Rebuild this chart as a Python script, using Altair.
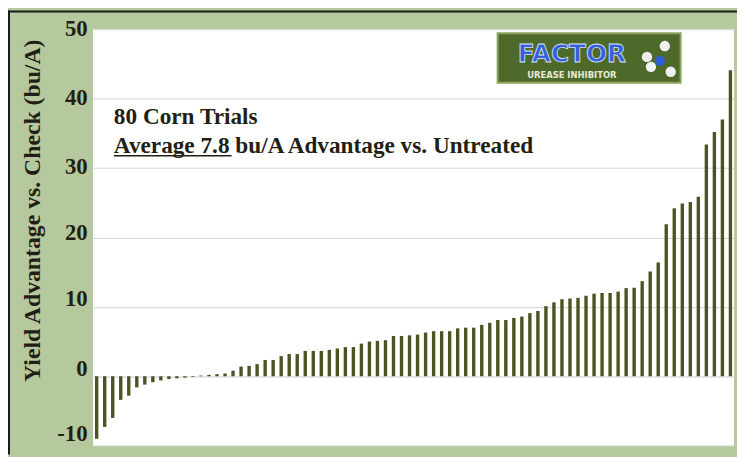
import altair as alt
import pandas as pd

# ---- data ----
trials = list(range(1, 81))
advantage = [
    -9.0, -7.3, -6.0, -3.4, -2.8, -1.6, -1.2, -0.85, -0.6, -0.4,
    -0.3, -0.2, -0.1, 0.1, 0.2, 0.3, 0.4, 0.8, 1.4, 1.5,
    1.75, 2.35, 2.35, 2.9, 3.2, 3.2, 3.65, 3.65, 3.65, 3.8,
    4.0, 4.2, 4.2, 4.7, 5.0, 5.1, 5.2, 5.8, 5.8, 5.9,
    6.0, 6.3, 6.5, 6.5, 6.5, 6.9, 7.0, 7.0, 7.4, 7.7,
    8.1, 8.1, 8.4, 8.6, 9.1, 9.4, 10.1, 10.65, 11.1, 11.2,
    11.3, 11.6, 11.9, 12.0, 12.0, 12.2, 12.7, 12.75, 13.7, 15.1,
    16.4, 21.9, 24.2, 24.9, 25.1, 25.85, 33.4, 35.2, 37.0, 44.1,
]
y_ticks = [-10, 0, 10, 20, 30, 40, 50]
y_title = "Yield Advantage vs. Check (bu/A)"
note_1 = "80 Corn Trials"
note_2 = "Average 7.8 bu/A Advantage vs. Untreated"
logo_text = "FACTOR"
logo_sub = "UREASE INHIBITOR"

TEXT = "#231f14"
BAR = "#4b5323"
SERIF = "Liberation Serif"

df = pd.DataFrame({"trial": trials, "advantage": advantage})
one = pd.DataFrame({"k": [0]})

bars = alt.Chart(df).mark_bar(color=BAR).encode(
    x=alt.X("trial:O", axis=None,
            scale=alt.Scale(paddingInner=0.58, paddingOuter=0.24)),
    y=alt.Y(
        "advantage:Q",
        scale=alt.Scale(domain=[-10, 50], nice=False, zero=False),
        axis=alt.Axis(
            values=y_ticks,
            title=y_title,
            domain=False,
            ticks=False,
            grid=True,
            gridColor="#d2d2d2",
            gridWidth=1,
            labelFont=SERIF,
            labelFontWeight="bold",
            labelFontSize=23,
            labelColor=TEXT,
            labelPadding=6,
            labelExpr="datum.value < 0 ? '-' + abs(datum.value) : datum.label",
            labelOffset={
                "condition": [
                    {"test": "datum.value < 0", "value": -12},
                    {"test": "datum.value <= 10", "value": -8},
                    {"test": "datum.value == 20", "value": -5},
                ],
                "value": -1,
            },
            titleFont=SERIF,
            titleFontWeight="bold",
            titleFontSize=24,
            titleColor=TEXT,
            titleAngle=270,
            titleAlign="center",
            titleBaseline="middle",
            titleX=-61,
            titleY=183,
        ),
    ),
)

base1 = alt.Chart(one)

t1 = base1.mark_text(text=note_1, font=SERIF, fontWeight="bold", fontSize=23.5,
                     color=TEXT, align="left", baseline="alphabetic").encode(
    x=alt.value(21), y=alt.value(96))
t2 = base1.mark_text(text=note_2, font=SERIF, fontWeight="bold", fontSize=23.5,
                     color=TEXT, align="left", baseline="alphabetic").encode(
    x=alt.value(21), y=alt.value(125))
underline = base1.mark_rule(color=TEXT, strokeWidth=1.5).encode(
    x=alt.value(21), x2=alt.value(140), y=alt.value(128))

# logo
logo_box = base1.mark_rect(fill="#4d6a2b", stroke="#8ea45f", strokeWidth=2).encode(
    x=alt.value(409), x2=alt.value(594), y=alt.value(4), y2=alt.value(54))
logo_t = base1.mark_text(text=logo_text, font="DejaVu Sans", fontWeight="bold",
                         fontSize=25, fill="#3560d8", stroke="#d8e4ff",
                         strokeWidth=0.8, align="center",
                         baseline="alphabetic").encode(
    x=alt.value(484), y=alt.value(33))
logo_s = base1.mark_text(text=logo_sub, font="DejaVu Sans", fontWeight="bold",
                         fontSize=8.5, color="#e6ead6", align="center",
                         baseline="alphabetic").encode(
    x=alt.value(484), y=alt.value(49))
mol_pos = pd.DataFrame({
    "px": [578, 560, 573, 564, 584],
    "py": [17, 28, 32, 38, 43],
    "c": ["#f2f2f2", "#eeeeee", "#2f5fd0", "#f4f4f4", "#f0f0f0"],
})
molecule = alt.Chart(mol_pos).mark_circle(size=110, opacity=1).encode(
    x=alt.X("px:Q", scale=None),
    y=alt.Y("py:Q", scale=None),
    color=alt.Color("c:N", scale=None),
)

# frame lines at the top and left edge
frame_top = base1.mark_rule(color="#1a1a1a", strokeWidth=2).encode(
    x=alt.value(-86), x2=alt.value(651), y=alt.value(-18))
frame_left = base1.mark_rule(color="#1a1a1a", strokeWidth=2).encode(
    x=alt.value(-85), y=alt.value(-19), y2=alt.value(430))

chart = alt.layer(
    bars, t1, t2, underline, logo_box, logo_t, logo_s, molecule,
    frame_top, frame_left,
).properties(
    width=648,
    height=421,
    padding={"left": 86, "top": 19, "right": 3, "bottom": 9},
    autosize=alt.AutoSizeParams(type="none"),
    background="#b6c99e",
).configure_view(fill="white", strokeWidth=0)

chart.save("out.html", embed_options={"renderer": "svg", "actions": False})
